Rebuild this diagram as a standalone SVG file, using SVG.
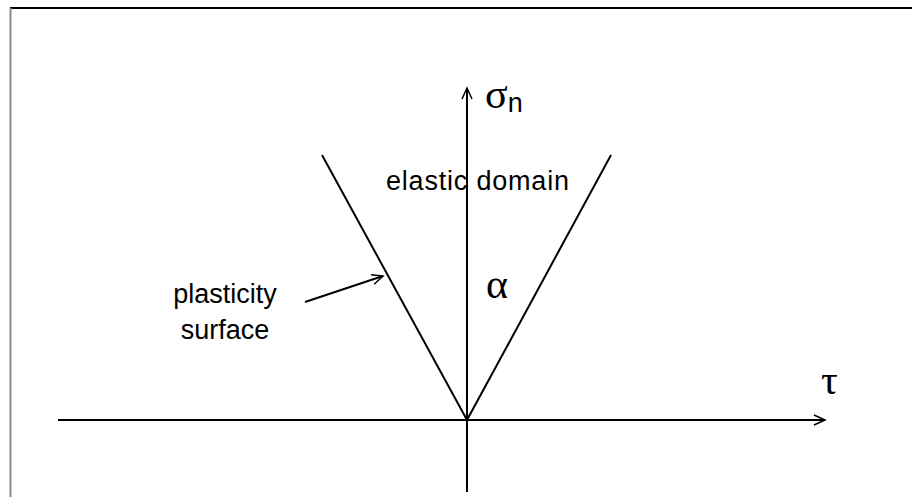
<svg xmlns="http://www.w3.org/2000/svg" width="912" height="497" viewBox="0 0 912 497">
<defs>
<style>
.ln{stroke:#000;stroke-width:2;fill:none}
.t{font-family:"Liberation Sans",Arial,sans-serif;font-size:27px;fill:#000}
.g{font-family:"Liberation Serif","Times New Roman",serif;font-size:42px;fill:#000}
</style>
<marker id="ah" markerWidth="14" markerHeight="12" refX="12" refY="6" orient="auto" markerUnits="userSpaceOnUse">
<path d="M1,1 L12,6 L1,11" fill="none" stroke="#000" stroke-width="1.5"/>
</marker>
</defs>
<rect width="912" height="497" fill="#fff"/>
<g id="frame">
<line x1="10" y1="8" x2="912" y2="8" stroke="#000" stroke-width="2"/>
<line x1="10.5" y1="8" x2="10.5" y2="497" stroke="#888" stroke-width="2"/>
</g>
<g id="connectors">
<line class="ln" x1="58" y1="420" x2="825" y2="420" marker-end="url(#ah)"/>
<line class="ln" x1="467" y1="492" x2="467" y2="88" marker-end="url(#ah)"/>
<line class="ln" x1="467" y1="420" x2="322" y2="155"/>
<line class="ln" x1="467" y1="420" x2="611" y2="155"/>
<line class="ln" x1="305" y1="302" x2="383" y2="276" marker-end="url(#ah)"/>
</g>
<g id="sigma"><text class="g" x="485" y="108" font-size="40">σ<tspan class="t" font-size="26" dy="4">n</tspan></text></g>
<g id="elastic"><text class="t" x="386" y="190" font-size="28" textLength="183" lengthAdjust="spacing">elastic domain</text></g>
<g id="alpha"><text class="g" x="486" y="298">α</text></g>
<g id="plasticity"><text class="t" x="225" y="303" text-anchor="middle">plasticity</text><text class="t" x="225" y="339" text-anchor="middle">surface</text></g>
<g id="tau"><text class="g" x="821" y="394" font-size="40">τ</text></g>
</svg>
